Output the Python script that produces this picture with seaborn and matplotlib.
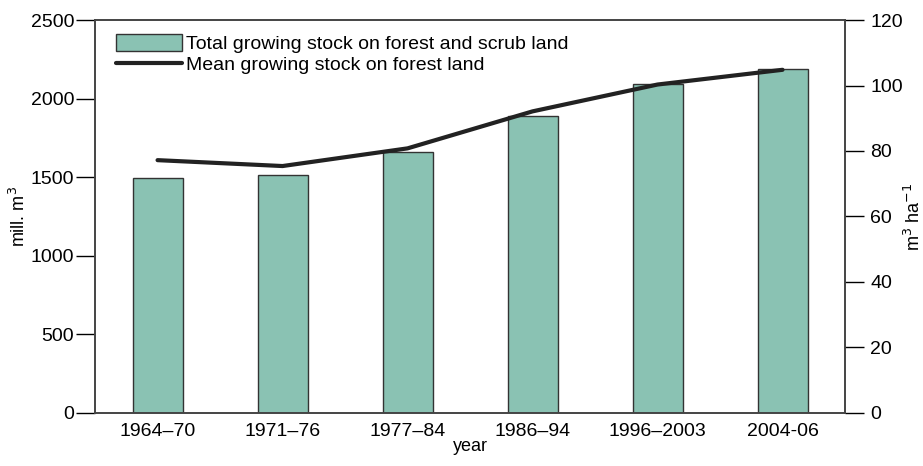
import numpy as np
import pandas as pd
import seaborn as sns
import matplotlib
matplotlib.use('Agg')
import matplotlib.pyplot as plt
from matplotlib.patches import Patch
from matplotlib.lines import Line2D

# data
periods = ['1964–70', '1971–76', '1977–84', '1986–94', '1996–2003', '2004-06']
total_stock = [1492, 1517, 1660, 1890, 2090, 2190]      # mill. m3
mean_stock = [77.2, 75.4, 80.8, 92.1, 100.3, 104.8]     # m3/ha

sns.set_style('white')
plt.rcParams['font.family'] = ['Liberation Sans', 'DejaVu Sans']
plt.rcParams['text.color'] = 'black'
plt.rcParams['axes.labelcolor'] = 'black'
plt.rcParams['xtick.color'] = 'black'
plt.rcParams['ytick.color'] = 'black'

df = pd.DataFrame({'period': periods, 'total': total_stock, 'mean': mean_stock})

fig, ax = plt.subplots(figsize=(9.23, 4.66), dpi=100)
fig.subplots_adjust(left=0.103, right=0.9155, top=0.957, bottom=0.114)

sns.barplot(data=df, x='period', y='total', color='#8ac2b3', saturation=1,
            width=0.4, edgecolor='#333333', linewidth=1.0, ax=ax)
ax.set_ylim(0, 2500)
ax.set_yticks([0, 500, 1000, 1500, 2000, 2500])
ax.set_xlim(-0.5, 5.5)
ax.set_xlabel('year', fontsize=13, labelpad=-1)
ax.set_ylabel('mill. m$^3$', fontsize=13, labelpad=1)
ax.tick_params(axis='y', direction='out', length=14, width=1, labelsize=14, pad=1)
ax.tick_params(axis='x', length=0, labelsize=14, pad=7)

ax2 = ax.twinx()
sns.lineplot(x=np.arange(len(periods)), y=mean_stock, color='#222222',
             linewidth=3, ax=ax2)
ax2.set_ylim(0, 120)
ax2.set_yticks([0, 20, 40, 60, 80, 100, 120])
ax2.set_ylabel('m$^3$ ha$^{-1}$', fontsize=13, labelpad=1)
ax2.tick_params(axis='y', direction='out', length=14, width=1, labelsize=14, pad=4)

for a in (ax, ax2):
    for s in a.spines.values():
        s.set_color('#444444')
        s.set_linewidth(1.2)

handles = [Patch(facecolor='#8ac2b3', edgecolor='#333333', linewidth=1),
           Line2D([], [], color='#222222', linewidth=3)]
labels = ['Total growing stock on forest and scrub land',
          'Mean growing stock on forest land']
ax2.legend(handles, labels, loc='upper left', frameon=False, fontsize=14,
           handlelength=3.4, handleheight=1.0, handletextpad=0.2,
           labelspacing=0.1, borderaxespad=0.3, bbox_to_anchor=(0.01, 1.0))

fig.savefig('out.png', dpi=100)
